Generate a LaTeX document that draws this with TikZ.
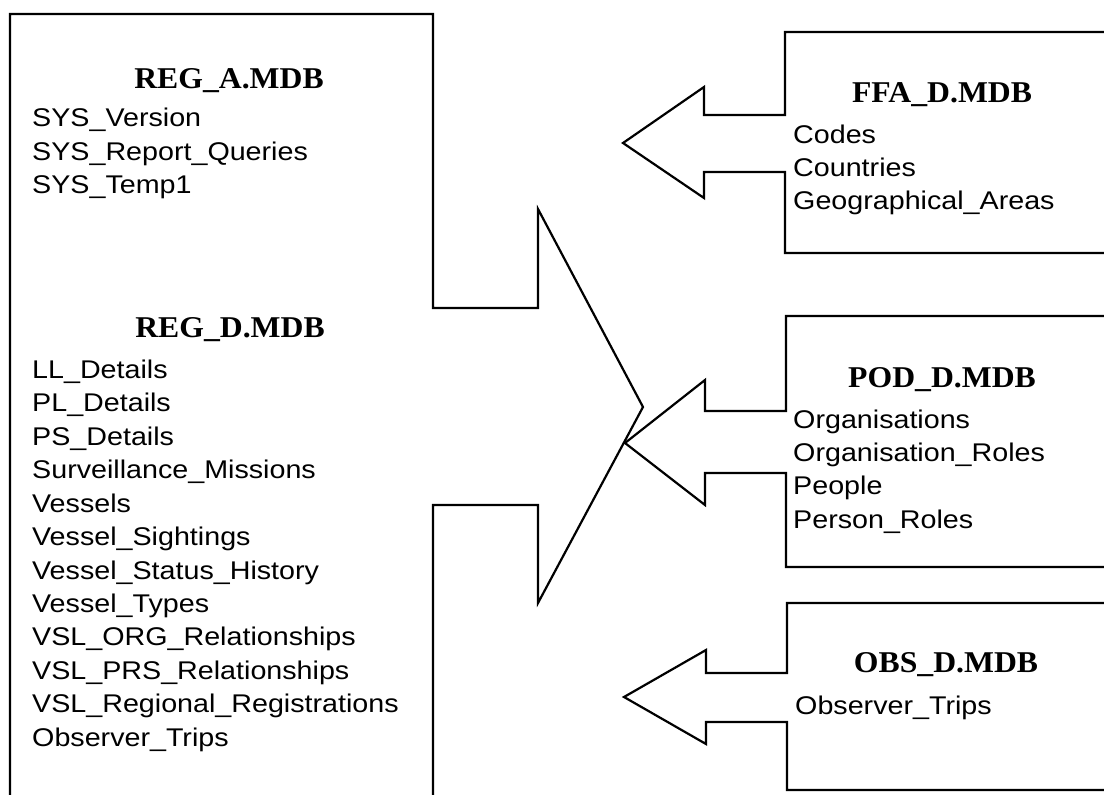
\documentclass[tikz,border=0pt]{standalone}
\usepackage{fontspec}
\setmainfont{Liberation Serif}
\newfontfamily\listfont{Liberation Sans}[FakeStretch=1.12]
\newfontfamily\headfont{Liberation Serif}[FakeStretch=1.05]
\begin{document}
\begin{tikzpicture}[x=1pt,y=-1pt,
  outline/.style={line width=2.2pt, line join=miter, draw=black},
  title/.style={font=\headfont\bfseries\fontsize{30.2}{34}\selectfont, anchor=base, inner sep=0pt},
  entry/.style={font=\listfont\fontsize{25.6}{30}\selectfont, anchor=base west, inner sep=0pt}]
\useasboundingbox (0,0) rectangle (1104,795);

% REG database block with its outgoing arrow
\draw[outline] (10,795) -- (10,14) -- (433,14) -- (433,308) -- (538,308) -- (538,209)
  -- (643,407) -- (538,603) -- (538,505) -- (433,505) -- (433,795);

% FFA block
\draw[outline] (1104,32) -- (785,32) -- (785,115) -- (704,115) -- (704,87) -- (623,143)
  -- (704,198) -- (704,172) -- (785,172) -- (785,253) -- (1104,253);

% POD block
\draw[outline] (1104,316) -- (786,316) -- (786,411) -- (705,411) -- (705,380) -- (625,443)
  -- (705,505) -- (705,473) -- (786,473) -- (786,567) -- (1104,567);

% OBS block
\draw[outline] (1104,603) -- (787,603) -- (787,673) -- (706,673) -- (706,650) -- (624,697)
  -- (706,744) -- (706,722) -- (787,722) -- (787,790) -- (1104,790);

% REG_A tables
\node[title] (rega) at (229,88) {REG\_A.MDB};
\foreach \t [count=\i from 0] in {SYS\_Version, SYS\_Report\_Queries, SYS\_Temp1}
  \node[entry] (rega-\i) at (32,{126.7+33.4*\i}) {\t};

% REG_D tables
\node[title] (regd) at (230,337) {REG\_D.MDB};
\foreach \t [count=\i from 0] in {LL\_Details, PL\_Details, PS\_Details,
    Surveillance\_Missions, Vessels, Vessel\_Sightings, Vessel\_Status\_History,
    Vessel\_Types, VSL\_ORG\_Relationships, VSL\_PRS\_Relationships,
    VSL\_Regional\_Registrations, Observer\_Trips}
  \node[entry] (regd-\i) at (32,{378.3+33.45*\i}) {\t};

% FFA_D tables
\node[title] (ffa) at (942,102) {FFA\_D.MDB};
\foreach \t [count=\i from 0] in {Codes, Countries, Geographical\_Areas}
  \node[entry] (ffa-\i) at (793,{143.3+33*\i}) {\t};

% POD_D tables
\node[title] (pod) at (942,387) {POD\_D.MDB};
\foreach \t [count=\i from 0] in {Organisations, Organisation\_Roles, People, Person\_Roles}
  \node[entry] (pod-\i) at (793,{428.3+33.3*\i}) {\t};

% OBS_D tables
\node[title] (obs) at (946,672) {OBS\_D.MDB};
\node[entry] (obs-0) at (795,714) {Observer\_Trips};
\end{tikzpicture}
\end{document}
